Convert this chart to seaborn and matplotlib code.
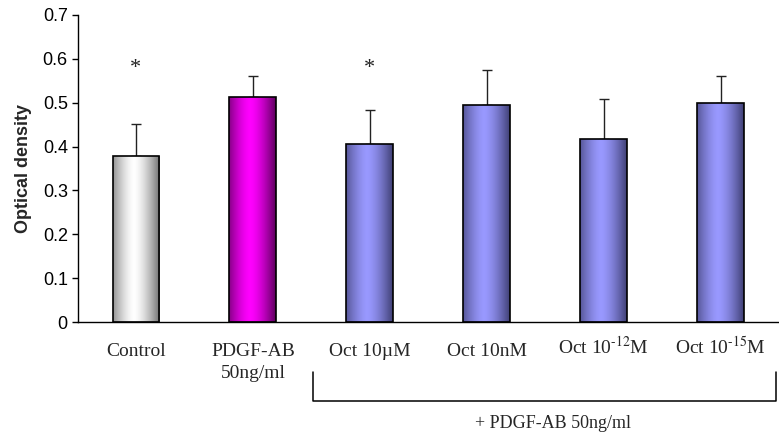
import numpy as np
import pandas as pd
import matplotlib
matplotlib.use("Agg")
import matplotlib.pyplot as plt
import matplotlib.transforms as mtransforms
import seaborn as sns

# ---- data ----
categories = ["Control", "PDGF-AB\n50ng/ml", "Oct 10\u00b5M", "Oct 10nM",
              r"Oct 10$^{\text{-12}}$M", r"Oct 10$^{\text{-15}}$M"]
values = [0.379, 0.513, 0.405, 0.495, 0.417, 0.499]
errors = [0.072, 0.048, 0.078, 0.079, 0.092, 0.063]
significant = [True, False, True, False, False, False]
ytick_values = [0, 0.1, 0.2, 0.3, 0.4, 0.5, 0.6, 0.7]
ytick_labels = ["0", "0.1", "0.2", "0.3", "0.4", "0.5", "0.6", "0.7"]
group_label = "+ PDGF-AB 50ng/ml"
y_label = "Optical density"

# gradient colours (dark edge, light centre) per bar
dark_colors = ["#6e6e6e", "#5c005c", "#3f3f74", "#3f3f74", "#3f3f74", "#3f3f74"]
light_colors = ["#ffffff", "#ff00ff", "#9999ff", "#9999ff", "#9999ff", "#9999ff"]

sns.set_theme(style="white")
plt.rcParams["font.family"] = ["Liberation Serif", "DejaVu Serif"]
plt.rcParams["mathtext.fontset"] = "stix"

fig = plt.figure(figsize=(7.79, 4.41), dpi=100)
ax = fig.add_axes([0.0995, 0.2698, 0.9005, 0.6962])

df = pd.DataFrame({"cat": categories, "val": values})
sns.barplot(data=df, x="cat", y="val", order=categories, color="white",
            width=0.4, edgecolor="black", linewidth=1.2, ax=ax, zorder=2)

# gradient fills clipped to each bar
prof_t = np.linspace(0, 1, 200)
light_frac = 1 - np.clip(np.abs((prof_t - 0.45) / 0.55), 0, 1) ** 1.5
for patch, dc, lc in zip(ax.patches, dark_colors, light_colors):
    d = np.array(matplotlib.colors.to_rgb(dc))
    l = np.array(matplotlib.colors.to_rgb(lc))
    grad = d[None, :] * (1 - light_frac[:, None]) + l[None, :] * light_frac[:, None]
    grad = grad[None, :, :]
    x0, y0 = patch.get_x(), patch.get_y()
    w, h = patch.get_width(), patch.get_height()
    im = ax.imshow(grad, extent=[x0, x0 + w, y0, y0 + h], aspect="auto",
                   zorder=1.5, interpolation="bilinear")
    im.set_clip_path(patch)
    patch.set_facecolor("none")

xs = np.arange(len(categories))
ax.errorbar(xs, values, yerr=[np.zeros(len(errors)), errors], fmt="none",
            ecolor="#222222", elinewidth=1.0, capsize=3.4, capthick=1.0, zorder=1.4)

for x, sig in zip(xs, significant):
    if sig:
        ax.text(x, 0.578, "*", ha="center", va="center", fontsize=16,
                family=["Liberation Serif"], color="#222222")

ax.set_xlim(-0.5, len(categories) - 0.5)
ax.set_ylim(0, 0.7)
ax.set_yticks(ytick_values)
ax.set_yticklabels(ytick_labels, family=["Liberation Sans"], fontsize=13)
ax.set_xticks(xs)
ax.set_xticklabels(categories, fontsize=14, linespacing=1.4)
ax.tick_params(axis="x", length=0, pad=15)
ax.tick_params(axis="y", length=4, width=1, direction="out", left=True, pad=3, colors="black")
ax.set_xlabel("")
ax.set_ylabel(y_label, family=["Liberation Sans"], fontsize=13, fontweight="bold",
              labelpad=8)

# labels with superscripts sit a little higher
for lab in ax.get_xticklabels():
    if "$" in lab.get_text():
        lab.set_transform(lab.get_transform() +
                          mtransforms.ScaledTranslation(0, 5 / 72, fig.dpi_scale_trans))

for s in ["top", "right"]:
    ax.spines[s].set_visible(False)
for s in ["left", "bottom"]:
    ax.spines[s].set_color("black")
    ax.spines[s].set_linewidth(1.0)

# bracket under the treated groups
trans = mtransforms.blended_transform_factory(ax.transData, ax.transAxes)
ax.plot([1.51, 1.51, 5.475, 5.475], [-0.163, -0.257, -0.257, -0.163], color="black",
        lw=1.1, transform=trans, clip_on=False)
ax.text(3.57, -0.33, group_label, ha="center", va="center", fontsize=13,
        transform=trans)

fig.savefig("out.png", dpi=100)
